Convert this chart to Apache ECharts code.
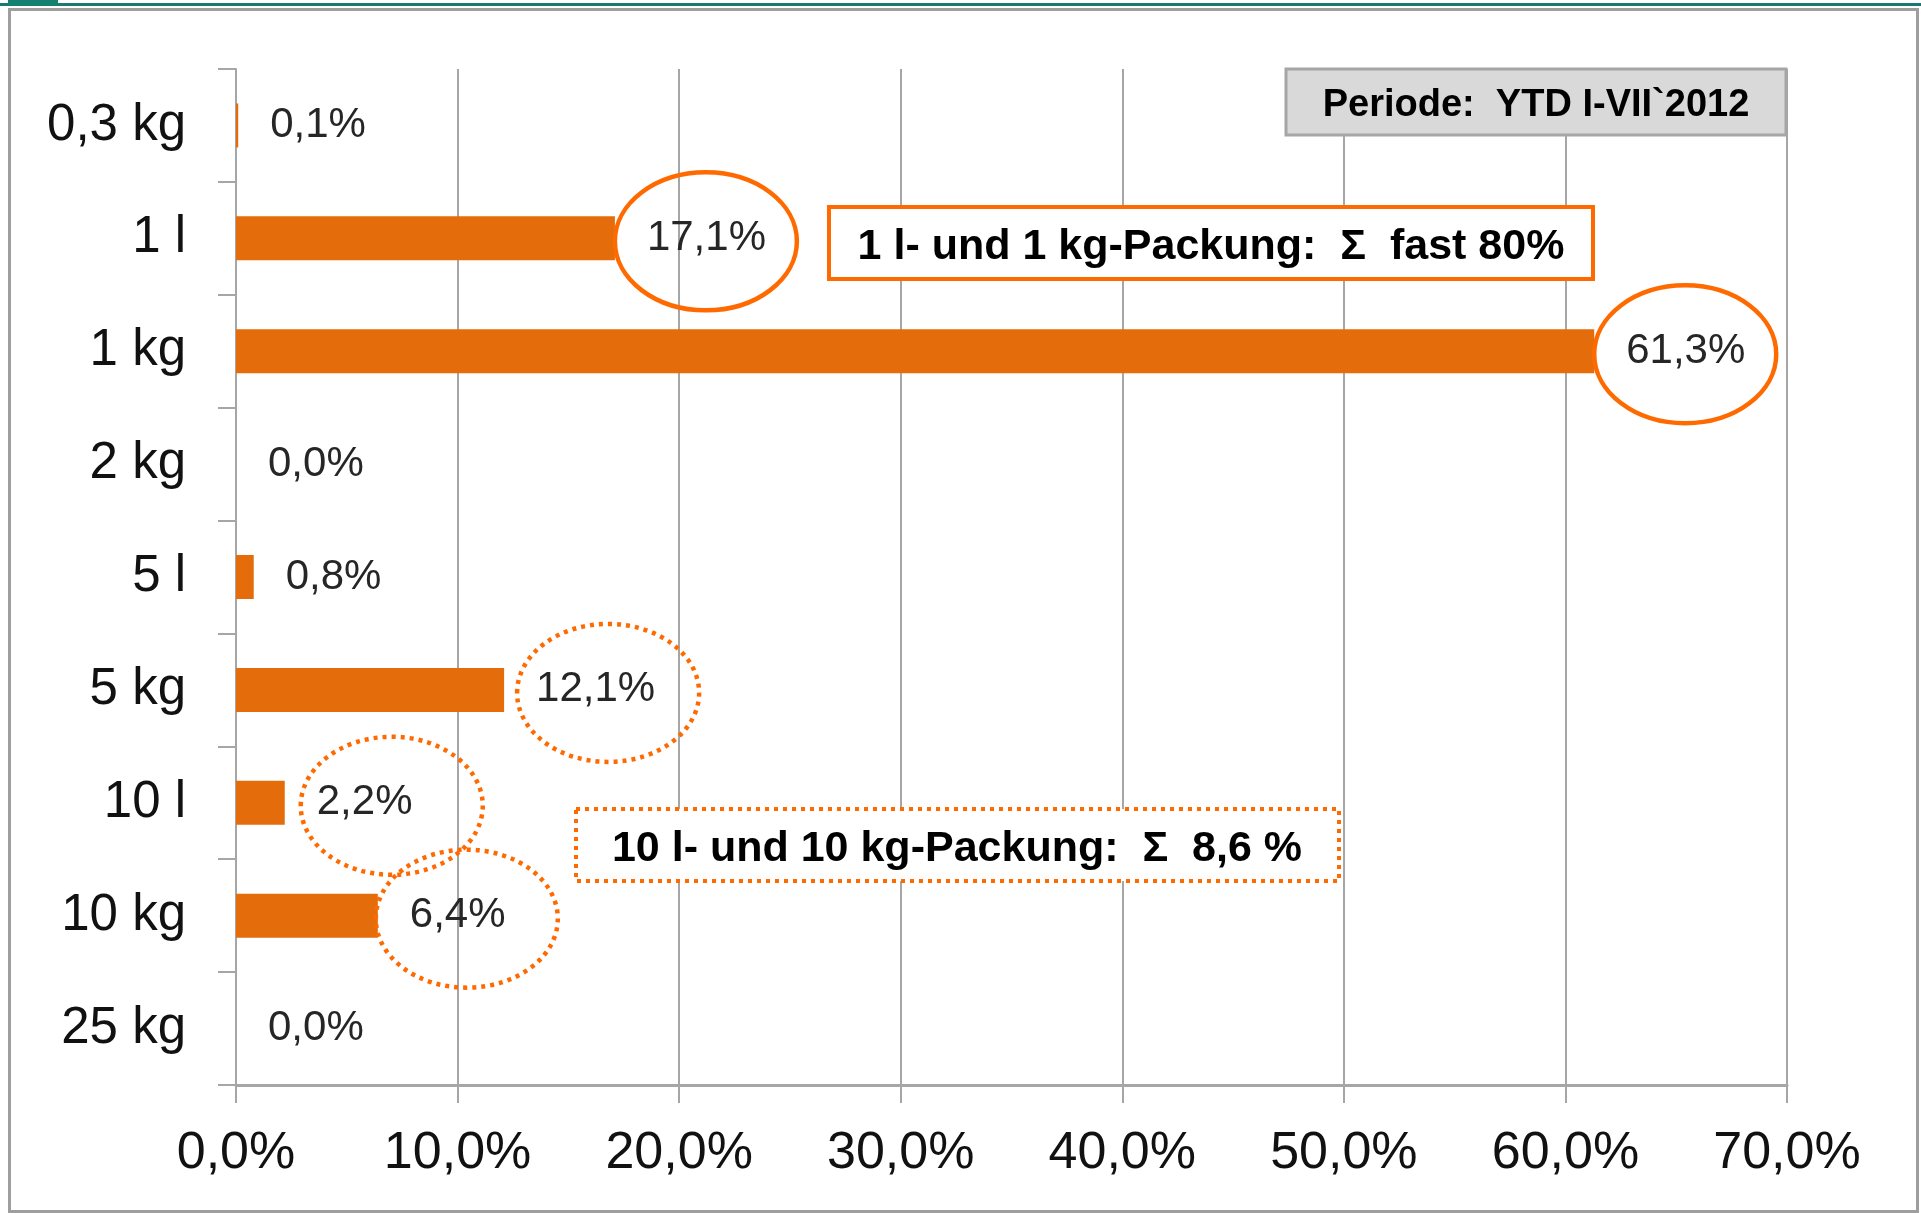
<!DOCTYPE html>
<html>
<head>
<meta charset="utf-8">
<title>Packungsgrößen</title>
<script src="https://cdn.jsdelivr.net/npm/echarts@6.0.0/dist/echarts.min.js"></script>
<style>
html, body { margin: 0; padding: 0; background: #fff; }
#chart { width: 1921px; height: 1213px; }
</style>
</head>
<body>
<div id="chart"></div>
<script>
// categories, top to bottom, and their share in %
var categories = ['0,3 kg', '1 l', '1 kg', '2 kg', '5 l', '5 kg', '10 l', '10 kg', '25 kg'];
var shares = [0.1, 17.1, 61.3, 0.0, 0.8, 12.1, 2.2, 6.4, 0.0];
var xMin = 0, xMax = 70, xStep = 10;

// bars whose label gets a ring
var ringSolid = [1, 2];
var ringDotted = [5, 6, 7];

var periodText = 'Periode:  YTD I-VII`2012';
var noteTop = '1 l- und 1 kg-Packung:  \u03A3  fast 80%';
var noteBottom = '10 l- und 10 kg-Packung:  \u03A3  8,6 %';

var barColor = '#E46C0A';
var ringColor = '#FF6A00';
var lineGrey = '#A6A6A6';
var font = '"Liberation Sans", Arial, sans-serif';

function pct(v) {
  return v.toFixed(1).replace('.', ',') + '%';
}

var chart = echarts.init(document.getElementById('chart'));

chart.setOption({
  animation: false,
  backgroundColor: '#fff',
  grid: { left: 236, right: 134, top: 69, bottom: 128 },
  xAxis: {
    type: 'value',
    min: xMin,
    max: xMax,
    interval: xStep,
    axisLine: { show: true, lineStyle: { color: lineGrey, width: 3 } },
    axisTick: { show: true, length: 18, lineStyle: { color: lineGrey, width: 2 } },
    splitLine: { show: true, lineStyle: { color: lineGrey, width: 2 } },
    axisLabel: {
      margin: 38,
      padding: [5, 0, 0, 0],
      fontFamily: font,
      fontSize: 52,
      color: '#111',
      formatter: function (v) { return pct(v); }
    }
  },
  yAxis: {
    type: 'category',
    inverse: true,
    data: categories,
    axisLine: { show: true, lineStyle: { color: lineGrey, width: 2 } },
    axisTick: { show: true, length: 18, lineStyle: { color: lineGrey, width: 2 } },
    axisLabel: {
      margin: 50,
      fontFamily: font,
      fontSize: 51,
      color: '#111'
    }
  },
  series: [{
    type: 'bar',
    data: shares,
    barWidth: 44,
    itemStyle: { color: barColor },
    label: {
      show: true,
      position: 'right',
      distance: 32,
      padding: [4, 0, 0, 0],
      fontFamily: font,
      fontSize: 42,
      color: '#262626',
      formatter: function (p) { return pct(p.value); }
    }
  }]
});

// rings round some labels, placed from the bar ends
var ringShift = { 5: 13, 6: 16, 7: -2 };
var rx = 91, ry = 69;
var graphics = [];

function addRing(idx, dotted) {
  var p = chart.convertToPixel({ seriesIndex: 0 }, [shares[idx], idx]);
  var dx = ringShift[idx] || 0;
  graphics.push({
    type: 'ellipse',
    z: 100,
    shape: { cx: p[0] + rx + dx, cy: p[1] + 3, rx: rx, ry: ry },
    style: dotted
      ? { fill: 'none', stroke: ringColor, lineWidth: 4.5, lineDash: [4, 5] }
      : { fill: 'none', stroke: ringColor, lineWidth: 4.5 }
  });
}
ringSolid.forEach(function (i) { addRing(i, false); });
ringDotted.forEach(function (i) { addRing(i, true); });

// frame and top strip of the slide
graphics.push(
  { type: 'rect', z: 1, shape: { x: 0, y: 3, width: 1921, height: 3 }, style: { fill: '#1B7A70' } },
  { type: 'rect', z: 1, shape: { x: 8, y: 0, width: 50, height: 6 }, style: { fill: '#15806F' } },
  { type: 'rect', z: 1, shape: { x: 9.5, y: 9.5, width: 1908, height: 1202 }, style: { fill: 'none', stroke: '#9E9E9E', lineWidth: 3 } }
);

// period box
graphics.push(
  { type: 'rect', z: 100, shape: { x: 1286, y: 69, width: 500, height: 66 },
    style: { fill: '#D9D9D9', stroke: lineGrey, lineWidth: 3 } },
  { type: 'text', z: 101, style: { text: periodText, x: 1536, y: 106, align: 'center', verticalAlign: 'middle',
    font: 'bold 38px ' + font, fill: '#000' } }
);

// note boxes
graphics.push(
  { type: 'rect', z: 100, shape: { x: 829, y: 207, width: 764, height: 72 },
    style: { fill: '#fff', stroke: ringColor, lineWidth: 4 } },
  { type: 'text', z: 101, style: { text: noteTop, x: 1211, y: 247, align: 'center', verticalAlign: 'middle',
    font: 'bold 43px ' + font, fill: '#000' } },
  { type: 'rect', z: 100, shape: { x: 576, y: 809, width: 763, height: 72 },
    style: { fill: '#fff', stroke: ringColor, lineWidth: 4, lineDash: [4, 5] } },
  { type: 'text', z: 101, style: { text: noteBottom, x: 957, y: 849, align: 'center', verticalAlign: 'middle',
    font: 'bold 43px ' + font, fill: '#000' } }
);

chart.setOption({ graphic: graphics });
</script>
</body>
</html>
